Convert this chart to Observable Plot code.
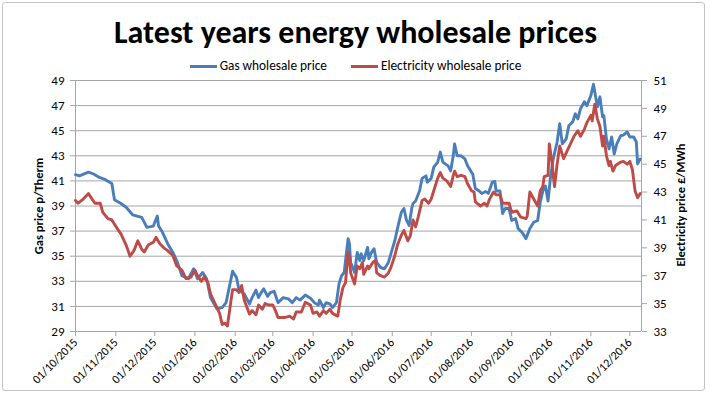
<!DOCTYPE html>
<html><head><meta charset="utf-8">
<script src="https://cdn.jsdelivr.net/npm/d3@7"></script>
<script src="https://cdn.jsdelivr.net/npm/@observablehq/plot@0.6"></script>
<style>
body{margin:0;background:#fff;font-family:Carlito,Lato,sans-serif;}
#wrap{position:relative;width:711px;height:395px;overflow:hidden;background:#fff;}
#frame{position:absolute;left:2px;top:2px;width:701px;height:387px;border:1px solid #c4c4c4;border-radius:3px;}
#title{position:absolute;left:0;width:711px;top:11px;text-align:center;font-weight:bold;font-size:32px;line-height:44px;color:#000;}
#legend{position:absolute;top:57px;left:0;width:711px;display:flex;justify-content:center;font-size:13.3px;line-height:18px;color:#000;}
.item{display:flex;align-items:center;}
.sw{width:27px;height:3px;margin-right:3px;}
#chart{position:absolute;left:0;top:0;}
.ytitle{position:absolute;font-weight:bold;font-size:12.5px;white-space:nowrap;transform:translate(-50%,-50%) rotate(-90deg);}
</style></head>
<body>
<div id="wrap">
  <div id="chart"></div>
  <div id="frame"></div>
  <div id="title">Latest years energy wholesale prices</div>
  <div id="legend"></div>
  <div class="ytitle" style="left:38px;top:206px;">Gas price p/Therm</div>
  <div class="ytitle" style="left:680px;top:205px;">Electricity price £/MWh</div>
</div>
<script>
const seriesNames = ["Gas wholesale price", "Electricity wholesale price"];
const seriesColors = ["#4a7ebb", "#be4b48"];
const leftTicks = [29, 31, 33, 35, 37, 39, 41, 43, 45, 47, 49];
const rightTicks = [33, 35, 37, 39, 41, 43, 45, 47, 49, 51];
const monthTicks = ["2015-10-01","2015-11-01","2015-12-01","2016-01-01","2016-02-01","2016-03-01","2016-04-01","2016-05-01","2016-06-01","2016-07-01","2016-08-01","2016-09-01","2016-10-01","2016-11-01","2016-12-01"];
const xDomain = ["2015-10-01", "2016-12-10"];

const gasDates = ["2015-10-01","2015-10-04","2015-10-11","2015-10-15","2015-10-19","2015-10-24","2015-10-29","2015-10-31","2015-11-05","2015-11-09","2015-11-14","2015-11-21","2015-11-25","2015-11-30","2015-12-03","2015-12-04","2015-12-07","2015-12-11","2015-12-15","2015-12-18","2015-12-22","2015-12-27","2015-12-31","2016-01-03","2016-01-07","2016-01-10","2016-01-13","2016-01-18","2016-01-22","2016-01-25","2016-01-27","2016-01-30","2016-02-02","2016-02-04","2016-02-08","2016-02-12","2016-02-14","2016-02-17","2016-02-19","2016-02-21","2016-02-23","2016-02-26","2016-02-28","2016-03-02","2016-03-05","2016-03-09","2016-03-13","2016-03-16","2016-03-19","2016-03-22","2016-03-26","2016-03-30","2016-04-02","2016-04-05","2016-04-06","2016-04-09","2016-04-11","2016-04-14","2016-04-16","2016-04-19","2016-04-21","2016-04-23","2016-04-25","2016-04-26","2016-04-28","2016-04-29","2016-04-30","2016-05-03","2016-05-05","2016-05-07","2016-05-08","2016-05-10","2016-05-13","2016-05-14","2016-05-16","2016-05-18","2016-05-20","2016-05-23","2016-05-26","2016-05-29","2016-05-31","2016-06-03","2016-06-05","2016-06-08","2016-06-10","2016-06-12","2016-06-14","2016-06-16","2016-06-17","2016-06-19","2016-06-22","2016-06-24","2016-06-27","2016-06-28","2016-07-01","2016-07-03","2016-07-06","2016-07-08","2016-07-10","2016-07-14","2016-07-16","2016-07-18","2016-07-19","2016-07-21","2016-07-24","2016-07-27","2016-07-29","2016-08-01","2016-08-02","2016-08-04","2016-08-07","2016-08-09","2016-08-12","2016-08-14","2016-08-17","2016-08-19","2016-08-20","2016-08-23","2016-08-25","2016-08-27","2016-08-30","2016-09-01","2016-09-04","2016-09-06","2016-09-09","2016-09-12","2016-09-15","2016-09-18","2016-09-21","2016-09-23","2016-09-25","2016-09-27","2016-09-29","2016-10-01","2016-10-03","2016-10-06","2016-10-08","2016-10-10","2016-10-13","2016-10-15","2016-10-18","2016-10-20","2016-10-22","2016-10-24","2016-10-27","2016-10-29","2016-11-01","2016-11-03","2016-11-06","2016-11-08","2016-11-10","2016-11-11","2016-11-13","2016-11-15","2016-11-17","2016-11-19","2016-11-21","2016-11-24","2016-11-26","2016-11-29","2016-12-01","2016-12-04","2016-12-06","2016-12-07","2016-12-09"];
const gasValues = [41.5,41.4,41.7,41.55,41.3,41.1,40.8,39.5,39.2,38.9,38.3,38.1,37.3,37.4,38.2,37.4,36.9,36.0,35.3,34.65,33.45,33.2,34.0,33.2,33.7,33.2,31.7,30.8,30.9,31.3,32.3,33.8,33.3,32.3,32.0,31.2,31.7,32.3,31.7,32.1,32.4,31.8,32.1,32.2,31.3,31.7,31.6,31.3,31.7,31.5,31.9,31.65,31.3,31.1,31.5,30.9,31.3,31.2,30.9,31.3,32.8,33.45,33.7,34.65,36.4,36.0,34.5,33.7,35.3,34.65,35.2,34.65,35.7,34.8,35.3,35.6,34.5,34.1,34.0,34.5,35.2,36.25,37.2,38.5,38.8,37.85,37.45,38.8,39.2,39.4,40.2,41.2,41.4,40.9,41.2,42.1,42.5,43.3,42.5,42.2,41.8,43.0,43.95,43.0,43.0,42.75,42.2,41.7,41.55,40.4,40.2,40.0,40.15,40.0,40.9,40.95,40.2,40.2,38.4,38.8,38.8,37.85,38.0,37.2,36.9,36.4,37.2,37.7,37.85,39.3,40.2,40.6,39.4,41.4,42.75,44.1,45.55,43.95,44.35,45.4,45.7,46.35,45.95,46.75,47.3,47.0,47.8,48.7,46.9,47.7,46.1,46.2,44.35,43.55,44.5,43.15,43.95,44.6,44.65,44.9,44.5,44.5,44.1,42.35,42.75];

const elecDates = ["2015-10-01","2015-10-03","2015-10-07","2015-10-11","2015-10-13","2015-10-16","2015-10-20","2015-10-22","2015-10-26","2015-10-29","2015-11-02","2015-11-05","2015-11-09","2015-11-12","2015-11-15","2015-11-18","2015-11-21","2015-11-23","2015-11-26","2015-11-30","2015-12-02","2015-12-05","2015-12-08","2015-12-11","2015-12-15","2015-12-18","2015-12-22","2015-12-25","2015-12-29","2016-01-01","2016-01-03","2016-01-06","2016-01-08","2016-01-11","2016-01-13","2016-01-17","2016-01-20","2016-01-22","2016-01-24","2016-01-26","2016-01-28","2016-01-30","2016-02-02","2016-02-04","2016-02-06","2016-02-08","2016-02-12","2016-02-14","2016-02-17","2016-02-19","2016-02-22","2016-02-24","2016-02-27","2016-03-01","2016-03-03","2016-03-05","2016-03-10","2016-03-14","2016-03-17","2016-03-19","2016-03-23","2016-03-26","2016-03-30","2016-04-01","2016-04-04","2016-04-06","2016-04-09","2016-04-11","2016-04-14","2016-04-16","2016-04-20","2016-04-22","2016-04-24","2016-04-26","2016-04-28","2016-04-29","2016-04-30","2016-05-03","2016-05-05","2016-05-07","2016-05-09","2016-05-10","2016-05-13","2016-05-14","2016-05-17","2016-05-19","2016-05-20","2016-05-23","2016-05-26","2016-05-29","2016-05-31","2016-06-03","2016-06-05","2016-06-08","2016-06-10","2016-06-13","2016-06-15","2016-06-17","2016-06-19","2016-06-21","2016-06-24","2016-06-26","2016-06-29","2016-07-01","2016-07-04","2016-07-06","2016-07-08","2016-07-10","2016-07-13","2016-07-16","2016-07-18","2016-07-19","2016-07-21","2016-07-24","2016-07-27","2016-07-29","2016-08-01","2016-08-03","2016-08-04","2016-08-08","2016-08-11","2016-08-13","2016-08-15","2016-08-18","2016-08-20","2016-08-23","2016-08-25","2016-08-27","2016-08-30","2016-09-01","2016-09-05","2016-09-08","2016-09-12","2016-09-13","2016-09-15","2016-09-18","2016-09-21","2016-09-23","2016-09-25","2016-09-26","2016-09-29","2016-09-30","2016-10-02","2016-10-03","2016-10-04","2016-10-06","2016-10-08","2016-10-11","2016-10-14","2016-10-17","2016-10-19","2016-10-22","2016-10-24","2016-10-27","2016-10-29","2016-11-01","2016-11-02","2016-11-04","2016-11-06","2016-11-08","2016-11-10","2016-11-11","2016-11-13","2016-11-15","2016-11-16","2016-11-18","2016-11-20","2016-11-24","2016-11-26","2016-11-29","2016-12-01","2016-12-03","2016-12-05","2016-12-07","2016-12-09"];
const elecValues = [42.4,42.2,42.5,42.9,42.6,42.2,42.2,41.55,41.1,41.0,40.4,40.0,39.2,38.4,38.8,39.5,38.9,38.7,39.2,39.4,39.75,39.3,39.0,38.8,38.45,37.7,37.4,36.8,36.9,37.4,37.0,36.6,36.9,36.5,35.7,34.9,34.3,33.5,33.6,33.4,34.7,36.0,36.0,35.8,36.3,35.25,34.25,34.5,34.2,34.9,34.6,35.0,34.9,34.9,34.5,34.0,34.0,34.1,33.9,34.4,34.4,35.1,34.9,34.3,34.4,34.1,34.5,34.3,34.6,34.3,34.1,35.3,36.15,36.5,38.7,38.2,37.2,36.4,37.7,37.5,37.95,37.1,37.7,37.5,37.95,38.1,37.2,37.0,36.9,37.2,37.6,38.45,39.2,39.9,40.25,39.5,39.9,41.0,40.5,41.2,42.4,42.5,42.2,42.5,43.4,44.0,44.4,44.0,43.8,43.4,44.2,44.5,44.1,44.2,44.1,43.6,43.1,43.0,42.3,42.0,42.2,42.0,42.5,43.0,42.8,42.8,42.2,42.2,42.2,41.55,41.65,41.2,41.1,41.3,43.0,42.5,42.0,43.1,43.4,44.1,44.2,46.45,45.15,44.2,43.4,45.0,46.3,45.4,46.0,46.6,47.0,47.4,47.0,47.5,48.0,48.5,48.1,49.3,48.25,47.7,46.3,47.0,45.6,44.9,45.2,44.5,44.9,45.15,45.2,45.0,45.2,44.6,43.1,42.6,42.9];

const parse = d3.utcParse("%Y-%m-%d");
const gas = gasDates.map((d, i) => ({date: parse(d), value: gasValues[i]}));
const elec = elecDates.map((d, i) => ({date: parse(d), value: elecValues[i]}));
// right axis (electricity) maps linearly onto the left axis (gas) range
const eMin = rightTicks[0], eMax = rightTicks[rightTicks.length - 1];
const gMin = leftTicks[0], gMax = leftTicks[leftTicks.length - 1];
const toLeft = e => gMin + (e - eMin) * (gMax - gMin) / (eMax - eMin);
const toRight = g => eMin + (g - gMin) * (eMax - eMin) / (gMax - gMin);
const xd = xDomain.map(parse);
const ticksX = monthTicks.map(parse);
const axisGrey = "#a6a6a6";
const fmt = d3.utcFormat("%d/%m/%Y");

const chart = Plot.plot({
  width: 711, height: 395,
  marginTop: 80, marginBottom: 64, marginLeft: 75, marginRight: 70,
  style: {fontFamily: "Carlito, Lato, sans-serif", fontSize: "13px", color: "#000", background: "transparent"},
  x: {type: "utc", domain: xd},
  y: {domain: [gMin, gMax]},
  marks: [
    Plot.gridY(leftTicks, {stroke: axisGrey, strokeOpacity: 1}),
    Plot.ruleX([xd[0], xd[1]], {stroke: axisGrey}),
    Plot.ruleY([gMin], {stroke: axisGrey}),
    Plot.axisY(leftTicks, {anchor: "left", tickSize: 5, tickPadding: 6, stroke: axisGrey, fill: "#000", label: null}),
    Plot.axisY(rightTicks.map(toLeft), {anchor: "right", tickSize: 5, tickPadding: 7, stroke: axisGrey, fill: "#000", tickFormat: d => String(Math.round(toRight(d))), label: null}),
    Plot.axisX(ticksX, {tickSize: 5, tickRotate: -45, tickPadding: 4, stroke: axisGrey, fill: "#000", tickFormat: fmt, label: null, fontSize: 12}),
    Plot.line(gas, {x: "date", y: "value", stroke: seriesColors[0], strokeWidth: 2.9, curve: "linear"}),
    Plot.line(elec, {x: "date", y: d => toLeft(d.value), stroke: seriesColors[1], strokeWidth: 2.9, curve: "linear"})
  ]
});
document.getElementById("chart").appendChild(chart);

const legend = document.getElementById("legend");
seriesNames.forEach((name, i) => {
  const it = document.createElement("div");
  it.className = "item";
  if (i > 0) it.style.marginLeft = "24px";
  const sw = document.createElement("div");
  sw.className = "sw";
  sw.style.background = seriesColors[i];
  const t = document.createElement("span");
  t.textContent = name;
  it.appendChild(sw); it.appendChild(t);
  legend.appendChild(it);
});
</script>
</body></html>
